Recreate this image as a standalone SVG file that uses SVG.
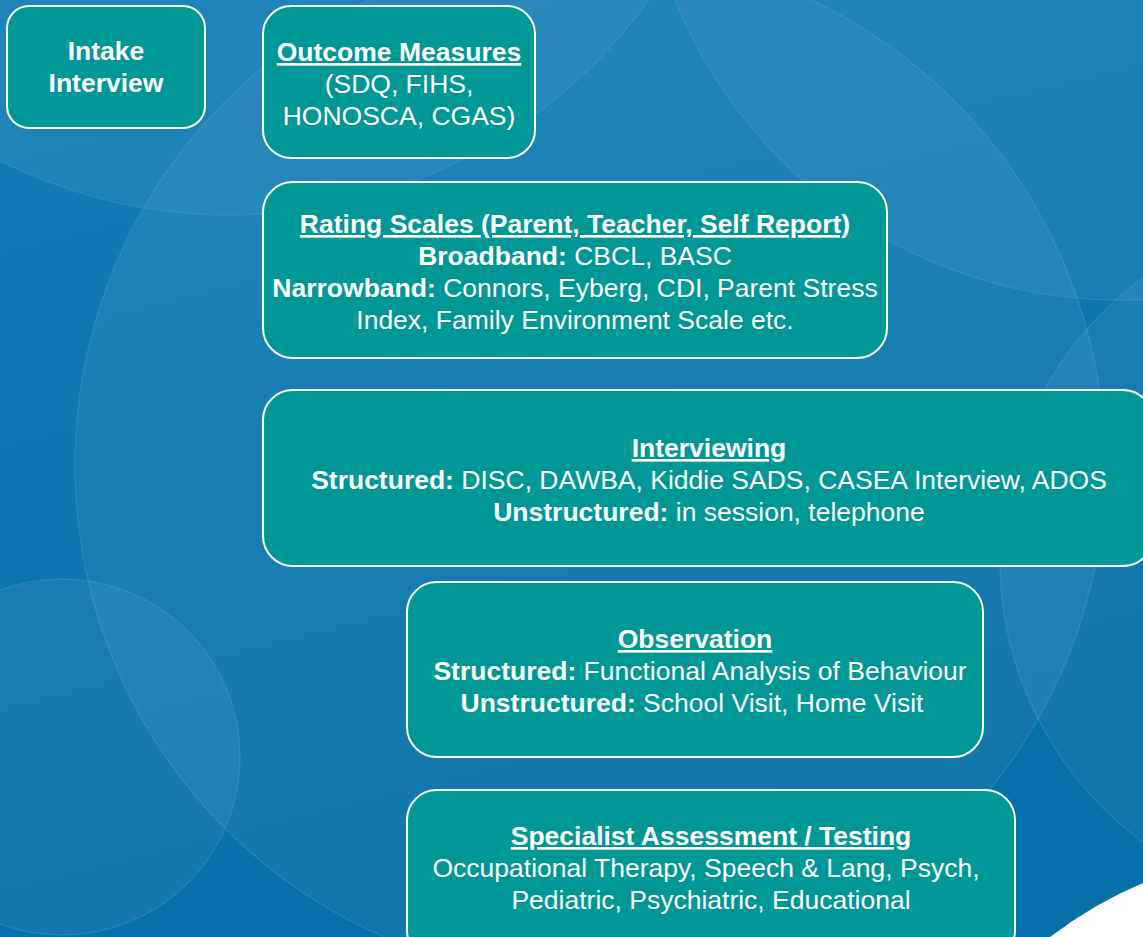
<svg xmlns="http://www.w3.org/2000/svg" width="1143" height="937" viewBox="0 0 1143 937">
<defs>
<linearGradient id="bg" x1="0" y1="0" x2="0.3" y2="1">
<stop offset="0" stop-color="#137eb5"/>
<stop offset="1" stop-color="#0670a8"/>
</linearGradient>
<style>
.box{fill:#009896;stroke:#ffffff;stroke-width:2}
.t{font-family:"Liberation Sans",Arial,sans-serif;font-size:26.5px;fill:#ffffff;text-anchor:middle}
.b{font-weight:bold}
.u{text-decoration:underline}
.c{fill:#ffffff;fill-opacity:0.055;stroke:#4fb0dc;stroke-opacity:0.28;stroke-width:1.5}
</style>
</defs>
<rect width="1143" height="937" fill="url(#bg)"/>
<g id="background">
<circle class="c" cx="590" cy="465" r="515"/>
<circle class="c" cx="1120" cy="-180" r="480"/>
<circle class="c" cx="230" cy="-300" r="515"/>
<circle class="c" cx="1350" cy="560" r="350"/>
<circle class="c" cx="62" cy="757" r="178"/>
<path d="M1050,937 Q1095,903 1143,883 L1143,937 Z" fill="#ffffff"/>
</g>
<g id="connectors"></g>
<g id="intake">
<rect class="box" x="7" y="6" width="198" height="122" rx="22"/>
<text class="t b" x="106" y="60">Intake</text>
<text class="t b" x="106" y="92">Interview</text>
</g>
<g id="outcome">
<rect class="box" x="263" y="6" width="272" height="152" rx="28"/>
<text class="t b u" x="399" y="61">Outcome Measures</text>
<text class="t" x="399" y="93">(SDQ, FIHS,</text>
<text class="t" x="399" y="125">HONOSCA, CGAS)</text>
</g>
<g id="rating">
<rect class="box" x="263" y="182" width="624" height="176" rx="30"/>
<text class="t b u" x="575" y="233">Rating Scales (Parent, Teacher, Self Report)</text>
<text class="t" x="575" y="265"><tspan class="b">Broadband:</tspan> CBCL, BASC</text>
<text class="t" x="575" y="297"><tspan class="b">Narrowband:</tspan> Connors, Eyberg, CDI, Parent Stress</text>
<text class="t" x="575" y="329">Index, Family Environment Scale etc.</text>
</g>
<g id="interviewing">
<rect class="box" x="263" y="390" width="890" height="176" rx="30"/>
<text class="t b u" x="709" y="457">Interviewing</text>
<text class="t" x="709" y="489"><tspan class="b">Structured:</tspan> DISC, DAWBA, Kiddie SADS, CASEA Interview, ADOS</text>
<text class="t" x="709" y="521"><tspan class="b">Unstructured:</tspan> in session, telephone</text>
</g>
<g id="observation">
<rect class="box" x="407" y="582" width="576" height="175" rx="30"/>
<text class="t b u" x="695" y="648">Observation</text>
<text class="t" x="700" y="680"><tspan class="b">Structured:</tspan> Functional Analysis of Behaviour</text>
<text class="t" x="692" y="712"><tspan class="b">Unstructured:</tspan> School Visit, Home Visit</text>
</g>
<g id="specialist">
<rect class="box" x="407" y="790" width="608" height="170" rx="30"/>
<text class="t b u" x="711" y="845">Specialist Assessment / Testing</text>
<text class="t" x="706" y="877">Occupational Therapy, Speech &amp; Lang, Psych,</text>
<text class="t" x="711" y="909">Pediatric, Psychiatric, Educational</text>
</g>
</svg>
